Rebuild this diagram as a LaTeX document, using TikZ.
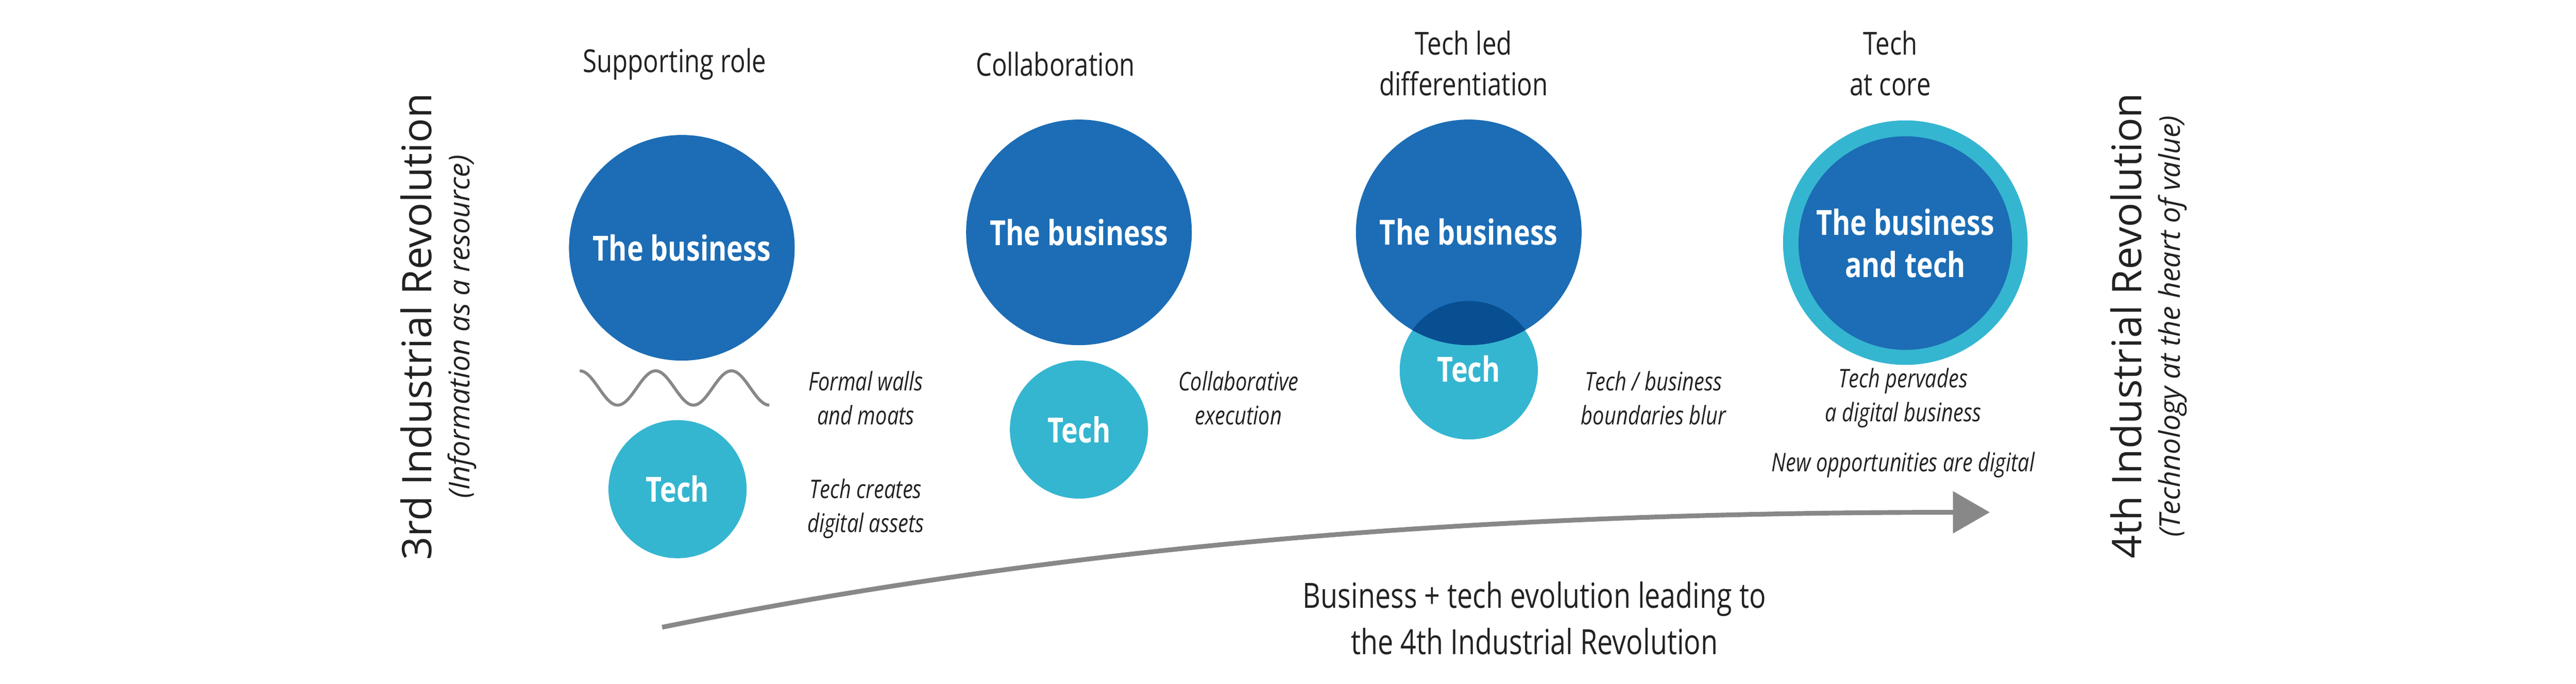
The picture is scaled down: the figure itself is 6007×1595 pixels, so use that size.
\documentclass[tikz,border=0pt]{standalone}
\usepackage{fontspec}
\setmainfont[FakeStretch=0.8]{Open Sans}
\newfontfamily\widefont{Open Sans}
\usetikzlibrary{arrows.meta}
\definecolor{biz}{HTML}{1C6DB5}
\definecolor{tech}{HTML}{35B6D0}
\definecolor{overlap}{HTML}{084F92}
\definecolor{arrowgray}{HTML}{888888}
\definecolor{txt}{HTML}{222222}
\tikzset{
  bizc/.style={circle,fill=biz,inner sep=0pt,minimum size=5.26cm,text=white,font=\fontsize{23}{28}\selectfont\bfseries,align=center},
  techc/.style={circle,fill=tech,inner sep=0pt,minimum size=3.22cm,text=white,font=\fontsize{23}{28}\selectfont\bfseries},
  title/.style={text=txt,font=\fontsize{21}{27}\selectfont,align=center},
  note/.style={text=txt,font=\fontsize{17}{22.5}\selectfont\itshape,align=center},
  revo/.style={text=txt,rotate=90,font=\widefont\fontsize{27}{32}\selectfont},
  revosub/.style={text=txt,rotate=90,font=\widefont\fontsize{19}{24}\selectfont\itshape},
}
\begin{document}
\begin{tikzpicture}[x=0.01cm,y=-0.01cm]
\useasboundingbox (0,0) rectangle (6007,1595);
% column 1
\node[title] (t1) at (1573,150) {Supporting role};
\node[bizc] (b1) at (1590,578) {The business};
\node[techc] (c1) at (1580,1141) {Tech};
\draw[arrowgray,line width=0.07cm] plot[domain=0:442,samples=120] ({\x+1352},{905-40*cos(\x/176.8*360)});
\node[note] (n1) at (2019,928) {Formal walls\\and moats};
\node[note] (n1b) at (2019,1186) {Tech creates\\digital assets};
% column 2
\node[title] (t2) at (2461,150) {Collaboration};
\node[bizc] (b2) at (2516,542) {The business};
\node[techc] (c2) at (2516,1002) {Tech};
\node[note] (n2) at (2888,928) {Collaborative\\execution};
% column 3
\node[title] (t3) at (3413,148) {Tech led\\differentiation};
\node[techc] (c3) at (3425,864) {};
\node[bizc] (b3) at (3425,542) {};
\begin{scope}
  \clip (3425,864) circle (162);
  \fill[overlap] (3425,542) circle (263);
\end{scope}
\node[text=white,font=\fontsize{23}{28}\selectfont\bfseries] (b3t) at (3425,541) {The business};
\node[text=white,font=\fontsize{23}{28}\selectfont\bfseries] (c3t) at (3425,860) {Tech};
\node[note] (n3) at (3856,928) {Tech / business\\boundaries blur};
% column 4
\node[title] (t4) at (4408,148) {Tech\\at core};
\node[circle,fill=tech,inner sep=0pt,minimum size=5.7cm] (r4) at (4443,566) {};
\node[bizc,minimum size=4.98cm] (b4) at (4443,567) {The business\\and tech};
\node[note] (n4) at (4438,928) {Tech pervades\\a digital business};
\node[note] (n5) at (4438,1084) {New opportunities are digital};
% arrow
\coordinate (as) at (1544,1463);
\coordinate (ae) at (4640,1195);
\draw[arrowgray,line width=0.11cm,-{Triangle[length=0.86cm,width=0.96cm]}] (as) .. controls (2600,1250) and (3600,1195) .. (ae);
\node[title,font=\fontsize{23}{31}\selectfont] (al) at (3578,1442) {Business + tech evolution leading to\\the 4th Industrial Revolution};
% side labels
\node[revo] (l3) at (971,762) {3rd Industrial Revolution};
\node[revosub] (l3s) at (1077,762) {(Information as a resource)};
\node[revo] (l4) at (4958,760) {4th Industrial Revolution};
\node[revosub] (l4s) at (5066,761) {(Technology at the heart of value)};
\end{tikzpicture}
\end{document}
